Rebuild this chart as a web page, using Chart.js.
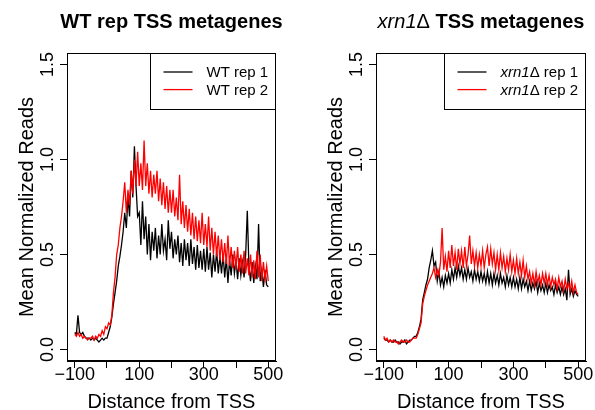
<!DOCTYPE html>
<html lang="en">
<head>
<meta charset="UTF-8">
<title>TSS metagenes</title>
<script src="https://cdn.jsdelivr.net/npm/chart.js"></script>
<style>
  body { margin: 0; background: #fff; }
  canvas { position: absolute; top: 0; }
</style>
</head>
<body>
<canvas id="wtChart" width="300" height="410" style="left:0"></canvas>
<canvas id="xrnChart" width="295" height="410" style="left:300px"></canvas>
<script>
// distance from TSS (bp), sampled every 5
const distance = [
  -100, -95, -90, -85, -80, -75, -70, -65, -60, -55,
  -50, -45, -40, -35, -30, -25, -20, -15, -10, -5,
  0, 5, 10, 15, 20, 25, 30, 35, 40, 45,
  50, 55, 60, 65, 70, 75, 80, 85, 90, 95,
  100, 105, 110, 115, 120, 125, 130, 135, 140, 145,
  150, 155, 160, 165, 170, 175, 180, 185, 190, 195,
  200, 205, 210, 215, 220, 225, 230, 235, 240, 245,
  250, 255, 260, 265, 270, 275, 280, 285, 290, 295,
  300, 305, 310, 315, 320, 325, 330, 335, 340, 345,
  350, 355, 360, 365, 370, 375, 380, 385, 390, 395,
  400, 405, 410, 415, 420, 425, 430, 435, 440, 445,
  450, 455, 460, 465, 470, 475, 480, 485, 490, 495,
  500
];

const wtRep1 = [
  0.09, 0.08, 0.18, 0.09, 0.08, 0.09, 0.07, 0.06, 0.06, 0.06,
  0.05, 0.06, 0.05, 0.06, 0.05, 0.04, 0.05, 0.06, 0.05, 0.06,
  0.06, 0.09, 0.12, 0.17, 0.24, 0.30, 0.36, 0.44, 0.49, 0.55,
  0.62, 0.72, 0.64, 0.80, 0.70, 0.94, 0.80, 1.07, 0.86, 0.70,
  0.72, 0.55, 0.78, 0.58, 0.70, 0.50, 0.66, 0.47, 0.62, 0.52,
  0.64, 0.48, 0.60, 0.50, 0.66, 0.52, 0.58, 0.47, 0.68, 0.53,
  0.62, 0.48, 0.58, 0.50, 0.60, 0.46, 0.56, 0.44, 0.58, 0.47,
  0.56, 0.44, 0.58, 0.45, 0.54, 0.42, 0.55, 0.43, 0.52, 0.42,
  0.53, 0.41, 0.54, 0.42, 0.51, 0.38, 0.50, 0.41, 0.52, 0.40,
  0.49, 0.40, 0.50, 0.38, 0.48, 0.35, 0.47, 0.39, 0.50, 0.40,
  0.47, 0.37, 0.48, 0.39, 0.46, 0.38, 0.50, 0.73, 0.44, 0.36,
  0.46, 0.35, 0.44, 0.37, 0.66, 0.36, 0.42, 0.33, 0.42, 0.34,
  0.33
];

const wtRep2 = [
  0.08, 0.07, 0.09, 0.07, 0.08, 0.06, 0.07, 0.06, 0.05, 0.06,
  0.06, 0.07, 0.05, 0.07, 0.06, 0.08, 0.07, 0.10, 0.08, 0.12,
  0.11, 0.14, 0.13, 0.18, 0.30, 0.38, 0.50, 0.55, 0.64, 0.70,
  0.78, 0.88, 0.72, 0.84, 0.76, 0.94, 0.82, 1.00, 0.86, 1.04,
  0.86, 0.98, 0.84, 1.10, 0.86, 0.98, 0.82, 0.94, 0.80, 0.92,
  0.82, 0.94, 0.78, 0.90, 0.76, 0.88, 0.74, 0.86, 0.72, 0.84,
  0.72, 0.84, 0.70, 0.80, 0.68, 0.92, 0.66, 0.78, 0.64, 0.76,
  0.62, 0.74, 0.60, 0.72, 0.58, 0.70, 0.57, 0.68, 0.56, 0.72,
  0.55, 0.66, 0.54, 0.70, 0.52, 0.64, 0.50, 0.62, 0.49, 0.60,
  0.47, 0.58, 0.46, 0.56, 0.45, 0.60, 0.44, 0.54, 0.43, 0.52,
  0.42, 0.54, 0.41, 0.50, 0.40, 0.52, 0.40, 0.48, 0.39, 0.50,
  0.38, 0.47, 0.37, 0.52, 0.38, 0.50, 0.36, 0.46, 0.37, 0.44,
  0.36
];

const xrnRep1 = [
  0.06, 0.05, 0.05, 0.04, 0.05, 0.04, 0.04, 0.05, 0.04, 0.04,
  0.03, 0.04, 0.04, 0.05, 0.03, 0.04, 0.05, 0.05, 0.06, 0.07,
  0.07, 0.09, 0.12, 0.16, 0.26, 0.30, 0.34, 0.37, 0.43, 0.47,
  0.52, 0.44, 0.46, 0.36, 0.41, 0.34, 0.38, 0.33, 0.39, 0.35,
  0.40, 0.35, 0.42, 0.37, 0.43, 0.38, 0.44, 0.39, 0.43, 0.37,
  0.42, 0.37, 0.43, 0.38, 0.41, 0.36, 0.42, 0.37, 0.41, 0.36,
  0.41, 0.36, 0.40, 0.35, 0.41, 0.35, 0.40, 0.34, 0.40, 0.35,
  0.39, 0.34, 0.40, 0.35, 0.38, 0.33, 0.39, 0.34, 0.38, 0.33,
  0.38, 0.33, 0.37, 0.32, 0.38, 0.32, 0.37, 0.33, 0.36, 0.31,
  0.36, 0.31, 0.35, 0.32, 0.36, 0.30, 0.35, 0.31, 0.34, 0.30,
  0.35, 0.30, 0.34, 0.31, 0.33, 0.29, 0.34, 0.30, 0.33, 0.29,
  0.33, 0.29, 0.32, 0.26, 0.42, 0.29, 0.32, 0.28, 0.31, 0.29,
  0.28
];

const xrnRep2 = [
  0.07, 0.05, 0.06, 0.04, 0.05, 0.04, 0.05, 0.04, 0.04, 0.03,
  0.04, 0.05, 0.04, 0.04, 0.05, 0.04, 0.04, 0.05, 0.06, 0.06,
  0.06, 0.08, 0.11, 0.14, 0.24, 0.28, 0.31, 0.34, 0.36, 0.38,
  0.40, 0.43, 0.38, 0.42, 0.39, 0.46, 0.64, 0.42, 0.49, 0.41,
  0.52, 0.43, 0.55, 0.44, 0.51, 0.42, 0.53, 0.45, 0.52, 0.43,
  0.54, 0.44, 0.50, 0.60, 0.45, 0.52, 0.44, 0.51, 0.43, 0.50,
  0.44, 0.52, 0.43, 0.50, 0.54, 0.44, 0.53, 0.45, 0.51, 0.42,
  0.50, 0.42, 0.51, 0.43, 0.49, 0.41, 0.48, 0.42, 0.50, 0.41,
  0.47, 0.40, 0.48, 0.40, 0.46, 0.39, 0.47, 0.38, 0.44, 0.37,
  0.41, 0.35, 0.40, 0.34, 0.41, 0.35, 0.39, 0.34, 0.40, 0.35,
  0.40, 0.34, 0.39, 0.33, 0.38, 0.34, 0.37, 0.32, 0.38, 0.33,
  0.36, 0.31, 0.37, 0.32, 0.35, 0.31, 0.36, 0.30, 0.34, 0.30,
  0.29
];

const xTicks = [-100, 0, 100, 200, 300, 400, 500];
const xTickLabels = [-100, 100, 300, 500];
const yTicks = [0, 0.5, 1.0, 1.5];

const FONT = '"Liberation Sans", Arial, sans-serif';

// draw a line of text made of styled pieces, e.g. italic gene name + bold words
function drawRuns(ctx, runs, x, y, size, align) {
  const fontFor = style => (style ? style + ' ' : '') + size + 'px ' + FONT;
  let total = 0;
  runs.forEach(r => { ctx.font = fontFor(r[1]); total += ctx.measureText(r[0]).width; });
  let cx = align === 'center' ? x - total / 2 : x;
  ctx.textAlign = 'left';
  runs.forEach(r => {
    ctx.font = fontFor(r[1]);
    ctx.fillText(r[0], cx, y);
    cx += ctx.measureText(r[0]).width;
  });
  return total;
}
function runsWidth(ctx, runs, size) {
  let w = 0;
  runs.forEach(r => { ctx.font = (r[1] ? r[1] + ' ' : '') + size + 'px ' + FONT; w += ctx.measureText(r[0]).width; });
  return w;
}

// base R look: box, rotated y labels, title, boxed legend
const rStyle = {
  id: 'rStyle',
  afterDraw(chart, args, opts) {
    const { ctx, chartArea: a } = chart;
    const x = chart.scales.x, y = chart.scales.y;
    ctx.save();
    ctx.strokeStyle = '#000';
    ctx.lineWidth = 1;
    ctx.strokeRect(Math.round(a.left) + 0.5, Math.round(a.top) + 0.5,
      Math.round(a.right - a.left) - 1, Math.round(a.bottom - a.top) - 1);

    ctx.fillStyle = '#000';
    ctx.textBaseline = 'alphabetic';
    ctx.font = '18px ' + FONT;
    ctx.textAlign = 'center';
    xTickLabels.forEach(t => {
      const s = t < 0 ? '\u2212' + Math.abs(t) : String(t);
      ctx.fillText(s, x.getPixelForValue(t), a.bottom + 19);
    });
    yTicks.forEach(t => {
      ctx.save();
      ctx.translate(a.left - 14, y.getPixelForValue(t));
      ctx.rotate(-Math.PI / 2);
      ctx.textAlign = 'center';
      ctx.fillText(t.toFixed(1), 0, 0);
      ctx.restore();
    });

    ctx.font = '20px ' + FONT;
    ctx.textAlign = 'center';
    ctx.fillText('Distance from TSS', (a.left + a.right) / 2, 407.5);
    ctx.save();
    ctx.translate(a.left - 34, (a.top + a.bottom) / 2);
    ctx.rotate(-Math.PI / 2);
    ctx.fillText('Mean Normalized Reads', 0, 0);
    ctx.restore();

    drawRuns(ctx, opts.title, (a.left + a.right) / 2, 28, 20, 'center');

    // legend in the top right corner
    const ds = chart.data.datasets;
    let tw = 0;
    opts.legend.forEach(r => { tw = Math.max(tw, runsWidth(ctx, r, 15)); });
    const bw = 56 + tw + 8, bh = 56;
    const bl = Math.round(a.right - bw) + 0.5, bt = Math.round(a.top) + 0.5;
    ctx.strokeRect(bl, bt, Math.round(a.right) - 1 - bl + 0.5, bh);
    opts.legend.forEach((r, i) => {
      const ly = a.top + 19 + i * 17.6;
      ctx.strokeStyle = ds[i].borderColor;
      ctx.lineWidth = 1.3;
      ctx.beginPath();
      ctx.moveTo(bl + 13, ly);
      ctx.lineTo(bl + 42, ly);
      ctx.stroke();
      ctx.textBaseline = 'middle';
      drawRuns(ctx, r, bl + 56, ly + 1, 15, 'left');
    });
    ctx.restore();
  }
};

function makeChart(id, rep1, rep2, labels, title, legendRuns, yWidth, padRight) {
  const pts = vals => distance.map((d, i) => ({ x: d, y: vals[i] }));
  return new Chart(document.getElementById(id), {
    type: 'line',
    data: {
      datasets: [
        { label: labels[0], data: pts(rep1), borderColor: '#000000', borderWidth: 1.3, pointRadius: 0, order: 1 },
        { label: labels[1], data: pts(rep2), borderColor: '#ff0000', borderWidth: 1.3, pointRadius: 0, order: 0 }
      ]
    },
    options: {
      responsive: false,
      animation: false,
      devicePixelRatio: 1,
      layout: { padding: { left: 0, top: 53, right: padRight, bottom: 0 } },
      plugins: {
        legend: { display: false },
        tooltip: { enabled: false },
        rStyle: { title: title, legend: legendRuns }
      },
      scales: {
        x: {
          type: 'linear', min: -124, max: 524,
          afterBuildTicks: s => { s.ticks = xTicks.map(v => ({ value: v })); },
          afterFit: s => { s.height = 49; },
          ticks: { display: false },
          grid: { drawOnChartArea: false, drawTicks: true, tickLength: 7, color: '#000', lineWidth: 1 },
          border: { display: true, color: '#000', width: 1 }
        },
        y: {
          type: 'linear', min: -0.06, max: 1.56,
          afterBuildTicks: s => { s.ticks = yTicks.map(v => ({ value: v })); },
          afterFit: s => { s.width = yWidth; },
          ticks: { display: false },
          grid: { drawOnChartArea: false, drawTicks: true, tickLength: 7, color: '#000', lineWidth: 1 },
          border: { display: true, color: '#000', width: 1 }
        }
      }
    },
    plugins: [rStyle]
  });
}

makeChart('wtChart', wtRep1, wtRep2, ['WT rep 1', 'WT rep 2'],
  [['WT rep TSS metagenes', 'bold']],
  [[['WT rep 1', '']], [['WT rep 2', '']]], 67, 24);

makeChart('xrnChart', xrnRep1, xrnRep2, ['xrn1\u0394 rep 1', 'xrn1\u0394 rep 2'],
  [['xrn1', 'italic'], ['\u0394', ''], [' TSS metagenes', 'bold']],
  [[['xrn1', 'italic'], ['\u0394 rep 1', '']], [['xrn1', 'italic'], ['\u0394 rep 2', '']]], 76, 9);
</script>
</body>
</html>
